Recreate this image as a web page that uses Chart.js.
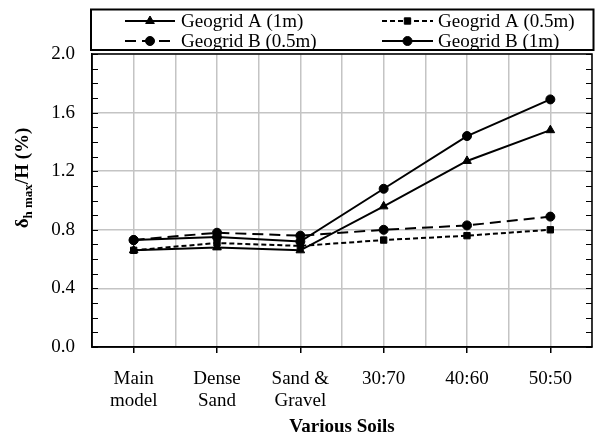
<!DOCTYPE html>
<html>
<head>
<meta charset="utf-8">
<script src="https://cdn.jsdelivr.net/npm/chart.js@4"></script>
<style>
  html, body { margin: 0; padding: 0; background: #fff; }
  #wrap { width: 607px; height: 437px; }
</style>
</head>
<body>
<div id="wrap"><canvas id="soilChart" width="607" height="437"></canvas></div>
<script>
const categories = [['Main', 'model'], ['Dense', 'Sand'], ['Sand &', 'Gravel'], '30:70', '40:60', '50:50'];
const seriesNames = ['Geogrid A (1m)', 'Geogrid A (0.5m)', 'Geogrid B (0.5m)', 'Geogrid B (1m)'];
const geogridA1m = [0.66, 0.68, 0.66, 0.96, 1.27, 1.48];
const geogridA05m = [0.66, 0.71, 0.69, 0.73, 0.76, 0.80];
const geogridB05m = [0.73, 0.78, 0.76, 0.80, 0.83, 0.89];
const geogridB1m = [0.73, 0.75, 0.72, 1.08, 1.44, 1.69];
const yTicks = [0.0, 0.4, 0.8, 1.2, 1.6, 2.0];
const minorStep = 0.1;

const FONT = "'Liberation Serif', 'Times New Roman', serif";
const GRID = '#c4c4c4';

function toPoints(vals) {
    return vals.map((v, i) => ({ x: i, y: v }));
}

function makeSet(label, vals, style, dash) {
    return {
        label: label,
        data: toPoints(vals),
        borderColor: '#000',
        backgroundColor: '#000',
        borderWidth: 2,
        borderDash: dash,
        pointStyle: style,
        pointRadius: style === 'triangle' ? 5 : 4.5,
        pointBorderWidth: 1,
        tension: 0
    };
}

// legend drawn in a bordered box above the plot
const legendBox = {
    id: 'legendBox',
    afterDraw(chart) {
        const ctx = chart.ctx;
        const area = chart.chartArea;
        const left = area.left - 1, right = area.right + 1.5;
        const top = 9.5, bottom = 50;
        ctx.save();
        ctx.fillStyle = '#fff';
        ctx.fillRect(left, top, right - left, bottom - top);
        ctx.strokeStyle = '#000';
        ctx.lineWidth = 2;
        ctx.strokeRect(left, top, right - left, bottom - top);

        const cols = [{ x0: 125, x1: 175, tx: 181 }, { x0: 382, x1: 433, tx: 438 }];
        const rows = [21, 41];
        chart.data.datasets.forEach((ds, i) => {
            const c = cols[i % 2];
            const y = rows[Math.floor(i / 2)];
            ctx.strokeStyle = '#000';
            ctx.fillStyle = '#000';
            ctx.lineWidth = 2;
            ctx.setLineDash(ds.borderDash || []);
            ctx.beginPath();
            ctx.moveTo(c.x0, y);
            ctx.lineTo(c.x1, y);
            ctx.stroke();
            ctx.setLineDash([]);
            ctx.lineWidth = 1;
            Chart.helpers.drawPoint(ctx, {
                pointStyle: ds.pointStyle,
                radius: ds.pointRadius,
                borderWidth: 1,
                rotation: 0
            }, (c.x0 + c.x1) / 2, y);
            ctx.fillStyle = '#000';
            ctx.font = '19px ' + FONT;
            ctx.textBaseline = 'middle';
            ctx.textAlign = 'left';
            ctx.fillText(ds.label, c.tx, y + 1);
        });
        ctx.restore();
    }
};

// plot frame, inward minor ticks and the y title with subscript
const frame = {
    id: 'frame',
    afterDraw(chart) {
        const ctx = chart.ctx;
        const a = chart.chartArea;
        const ys = chart.scales.y;
        ctx.save();
        ctx.strokeStyle = '#000';
        ctx.lineWidth = 1.5;
        ctx.strokeRect(a.left, a.top, a.right - a.left, a.bottom - a.top);
        ctx.lineWidth = 1.2;
        for (let k = 0; k * minorStep <= ys.max + 1e-9; k++) {
            const py = Math.round(ys.getPixelForValue(k * minorStep)) + 0.5;
            ctx.beginPath();
            ctx.moveTo(a.left, py);
            ctx.lineTo(a.left + 6, py);
            ctx.moveTo(a.right, py);
            ctx.lineTo(a.right - 6, py);
            ctx.stroke();
        }

        ctx.translate(23, 178);
        ctx.rotate(-Math.PI / 2);
        ctx.fillStyle = '#000';
        ctx.textBaseline = 'middle';
        const big = 'bold 19px ' + FONT, small = 'bold 13px ' + FONT;
        ctx.font = big; const w1 = ctx.measureText('δ').width;
        ctx.font = small; const w2 = ctx.measureText('h max').width;
        ctx.font = big; const w3 = ctx.measureText('/H (%)').width;
        let x = -(w1 + w2 + w3) / 2;
        ctx.textAlign = 'left';
        ctx.font = big; ctx.fillText('δ', x, 0); x += w1;
        ctx.font = small; ctx.fillText('h max', x, 6); x += w2;
        ctx.font = big; ctx.fillText('/H (%)', x, 0);
        ctx.restore();
    }
};

new Chart(document.getElementById('soilChart'), {
    type: 'line',
    data: {
        datasets: [
            makeSet(seriesNames[0], geogridA1m, 'triangle', []),
            makeSet(seriesNames[1], geogridA05m, 'rect', [5, 3]),
            makeSet(seriesNames[2], geogridB05m, 'circle', [11, 6]),
            makeSet(seriesNames[3], geogridB1m, 'circle', [])
        ]
    },
    options: {
        responsive: false,
        animation: false,
        events: [],
        layout: { padding: { top: 54, right: 3, left: 0, bottom: 0 } },
        plugins: {
            legend: { display: false },
            tooltip: { enabled: false }
        },
        scales: {
            x: {
                type: 'linear',
                min: -0.5,
                max: categories.length - 0.5,
                afterFit(scale) { scale.height = 90; },
                afterBuildTicks(scale) {
                    const t = [];
                    for (let k = 0; k <= categories.length * 2; k++) t.push({ value: -0.5 + k * 0.5 });
                    scale.ticks = t;
                },
                ticks: {
                    autoSkip: false,
                    maxRotation: 0,
                    padding: 15,
                    color: '#000',
                    font: { family: FONT, size: 19, lineHeight: 1.15 },
                    callback: v => Number.isInteger(v) ? categories[v] : ''
                },
                grid: {
                    color: GRID,
                    lineWidth: 1.5,
                    tickLength: 6,
                    tickColor: c => (c.tick && Number.isInteger(c.tick.value)) ? '#000' : 'rgba(0,0,0,0)',
                    tickWidth: 1.5
                },
                border: { color: '#000', width: 1.5 },
                title: {
                    display: true,
                    text: 'Various Soils',
                    color: '#000',
                    font: { family: FONT, size: 19, weight: 'bold', lineHeight: 1.0 },
                    padding: { top: 0, bottom: 0 }
                }
            },
            y: {
                min: yTicks[0],
                max: yTicks[yTicks.length - 1],
                afterFit(scale) { scale.width = 92; },
                afterBuildTicks(scale) { scale.ticks = yTicks.map(v => ({ value: v })); },
                ticks: {
                    padding: 17,
                    color: '#000',
                    font: { family: FONT, size: 19 },
                    callback: v => v.toFixed(1)
                },
                grid: { color: GRID, lineWidth: 1.5, drawTicks: false },
                border: { color: '#000', width: 1.5 }
            }
        }
    },
    plugins: [legendBox, frame]
});
</script>
</body>
</html>
